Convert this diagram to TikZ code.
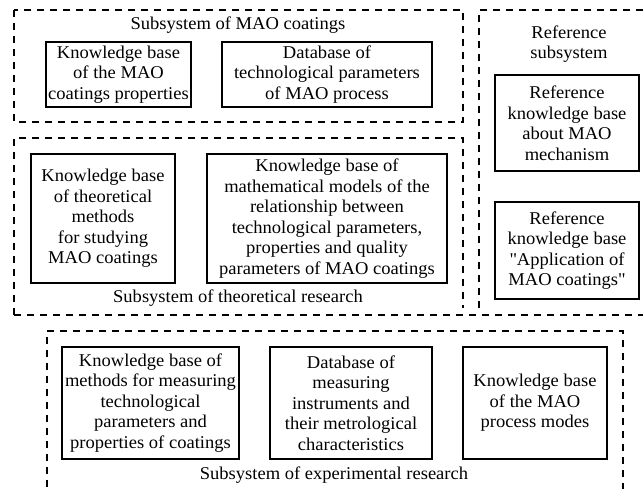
\documentclass[tikz,border=0pt]{standalone}
\usepackage{fontspec}
\setmainfont{Liberation Serif}[FakeStretch=1.03]
\begin{document}
\begin{tikzpicture}[x=1pt,y=-1pt,
  kb/.style={draw,line width=1.3pt,align=center,inner sep=0pt,
    font=\fontsize{18}{20.5}\selectfont},
  lbl/.style={align=center,inner sep=0pt,font=\fontsize{18}{20.5}\selectfont},
  frame/.style={line width=1.2pt,dash pattern=on 7pt off 6pt}]
\clip (0,0) rectangle (643,488);
\fill[white] (0,0) rectangle (643,488);
% dashed frames
\draw[frame] (14,10) rectangle (463,122);
\draw[frame] (14,315) -- (14,138) -- (463,138) -- (463,308);
\draw[frame] (479,308) -- (479,10) -- (660,10);
\draw[frame] (14,315) -- (660,315);
\draw[frame] (47,500) -- (47,331) -- (623,331) -- (623,500);
% labels
\node[lbl] (lA) at (238,25) {Subsystem of MAO coatings};
\node[lbl] (lB) at (238,298) {Subsystem of theoretical research};
\node[lbl] (lC) at (569,44) {Reference\\subsystem};
\node[lbl] (lD) at (334,475) {Subsystem of experimental research};
% boxes
\node[kb,minimum width=145pt,minimum height=65pt] (a1) at (118.5,74.5)
  {Knowledge base\\of the MAO\\coatings properties};
\node[kb,minimum width=210pt,minimum height=65pt] (a2) at (327,74.5)
  {Database of\\technological parameters\\of MAO process};
\node[kb,minimum width=144pt,minimum height=129pt] (b1) at (103,218.5)
  {Knowledge base\\of theoretical\\methods\\for studying\\MAO coatings};
\node[kb,minimum width=240pt,minimum height=129pt] (b2) at (327,218.5)
  {Knowledge base of\\mathematical models of the\\relationship between\\technological parameters,\\properties and quality\\parameters of MAO coatings};
\node[kb,minimum width=144pt,minimum height=96pt] (c1) at (567,123)
  {Reference\\knowledge base\\about MAO\\mechanism};
\node[kb,minimum width=144pt,minimum height=97pt] (c2) at (567,250.5)
  {Reference\\knowledge base\\\textquotedbl Application of\\MAO coatings\textquotedbl};
\node[kb,minimum width=177pt,minimum height=112pt] (d1) at (150.5,403)
  {Knowledge base of\\methods for measuring\\technological\\parameters and\\properties of coatings};
\node[kb,minimum width=162pt,minimum height=112pt] (d2) at (351,403)
  {Database of\\measuring\\instruments and\\their metrological\\characteristics};
\node[kb,minimum width=144pt,minimum height=112pt] (d3) at (535,403)
  {Knowledge base\\of the MAO\\process modes};
\end{tikzpicture}
\end{document}
